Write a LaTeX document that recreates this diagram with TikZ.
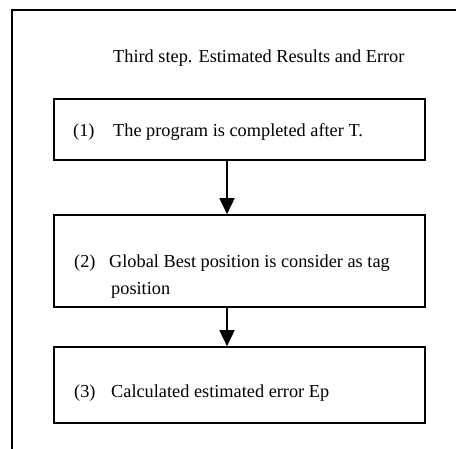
\documentclass[tikz,border=0pt]{standalone}
\usepackage{fontspec}
\setmainfont{Liberation Serif}
\usetikzlibrary{arrows.meta}
\begin{document}
\begin{tikzpicture}[x=1pt,y=1pt,
  stepbox/.style={draw, line width=1.6pt, minimum width=371pt, inner sep=0pt},
  txt/.style={anchor=base west, inner sep=0pt, font=\fontsize{18.3}{21}\selectfont},
  arr/.style={line width=1.6pt, -{Triangle[width=15pt,length=16pt]}}]
\useasboundingbox (0,0) rectangle (456,448);
% outer frame, running past the right and bottom edges
\draw[line width=1.8pt] (12,-10) -- (12,438) -- (470,438);
% title
\node[txt] (title) at (113,385) {Third step. Estimated Results and Error};
% step boxes
\node[stepbox, minimum height=61pt] (b1) at (239.5,318.5) {};
\node[stepbox, minimum height=92pt] (b2) at (239.5,187) {};
\node[stepbox, minimum height=76pt] (b3) at (239.5,63) {};
% step texts
\node[txt] (n1) at (73,311) {(1)};
\node[txt] (t1) at (113,311) {The program is completed after T.};
\node[txt] (n2) at (74,180) {(2)};
\node[txt] (t2) at (109,180) {Global Best position is consider as tag};
\node[txt] (t2b) at (111,153) {position};
\node[txt] (n3) at (74,51) {(3)};
\node[txt] (t3) at (111,51) {Calculated estimated error Ep};
% connectors
\coordinate (ax) at (227,0);
\draw[arr] (b1.south -| ax) -- (b2.north -| ax);
\draw[arr] (b2.south -| ax) -- (b3.north -| ax);
\end{tikzpicture}
\end{document}
